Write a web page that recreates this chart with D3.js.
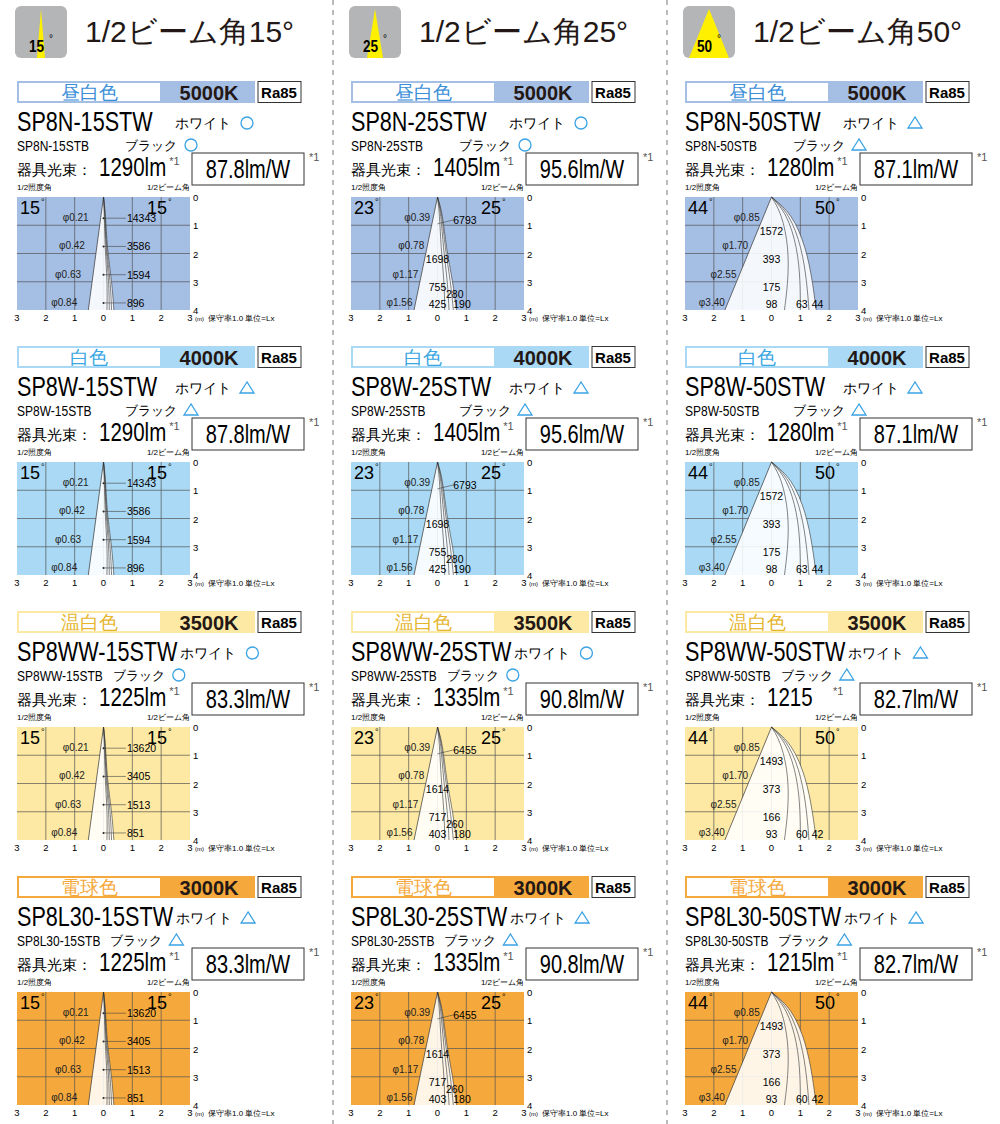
<!DOCTYPE html>
<html><head><meta charset="utf-8">
<script src="https://cdn.jsdelivr.net/npm/d3@7"></script>
<style>body{margin:0;background:#fff}text{font-family:"Liberation Sans",Arial,sans-serif}</style>
</head><body><div id="chart"></div>
<script>
// column data (beam angle)
const beamAngles = [15, 25, 50];
const illumAngles = [15, 23, 44];
const phis = [[0.21, 0.42, 0.63, 0.84], [0.39, 0.78, 1.17, 1.56], [0.85, 1.70, 2.55, 3.40]];
// row data (colour temperature)
const colorNames = ['昼白色', '白色', '温白色', '電球色'];
const kelvins = ['5000K', '4000K', '3500K', '3000K'];
const rowFill = ['#a5bee4', '#a9d9f4', '#fde9a3', '#f5a93c'];
const nameColor = ['#3b8ed8', '#3aa7e2', '#e6b52c', '#f5a93c'];
const modelPrefix = ['SP8N', 'SP8W', 'SP8WW', 'SP8L30'];
const lumens = [[1290, 1405, 1280], [1290, 1405, 1280], [1225, 1335, 1215], [1225, 1335, 1215]];
const lumenUnits = [['lm', 'lm', 'lm'], ['lm', 'lm', 'lm'], ['lm', 'lm', ''], ['lm', 'lm', 'lm']];
const efficacy = [['87.8', '95.6', '87.1'], ['87.8', '95.6', '87.1'], ['83.3', '90.8', '82.7'], ['83.3', '90.8', '82.7']];
const symbols = [['o', 'o', 't'], ['t', 't', 't'], ['o', 'o', 't'], ['t', 't', 't']];
// illuminance (lx)
const luxHigh = [[14343, 3586, 1594, 896], [6793, 1698, 755, 425, 280, 190], [1572, 393, 175, 98, 63, 44]];
const luxLow = [[13620, 3405, 1513, 851], [6455, 1614, 717, 403, 260, 180], [1493, 373, 166, 93, 60, 42]];
// lux label positions in metres [x, depth]
const luxPos = [
  [[0.95, 0.75], [0.95, 1.75], [0.95, 2.75], [0.95, 3.75]],
  [[0.95, 0.8], [0.0, 2.2], [0.0, 3.2], [0.0, 3.8], [0.6, 3.45], [0.85, 3.8]],
  [[0.0, 1.2], [0.0, 2.2], [0.0, 3.2], [0.0, 3.8], [1.05, 3.8], [1.6, 3.8]]
];
// isolux curve end points at 4 m and bulge
const curveEnds = [[0.12, 0.2, 0.28, 0.36], [0.25, 0.4, 0.55, 0.66], [0.45, 1.0, 1.3, 1.55]];
const curveBulge = [[0.05, 0.08, 0.1, 0.12], [0.12, 0.2, 0.26, 0.3], [0.6, 0.9, 1.05, 1.2]];

const W = 1000, H = 1124;
const svg = d3.select('#chart').append('svg').attr('width', W).attr('height', H);
const colX = [17, 351, 685];
const rowY = [81, 346, 611, 876];

// squeeze a text horizontally to imitate the condensed face
function narrow(sel, f) {
  const w = sel.node().getComputedTextLength();
  sel.attr('textLength', w * f).attr('lengthAdjust', 'spacingAndGlyphs');
  return w * f;
}

// separators
[333, 667].forEach(x => svg.append('line').attr('x1', x).attr('x2', x).attr('y1', 0).attr('y2', H)
  .attr('stroke', '#777').attr('stroke-dasharray', '5,5'));

// headers
beamAngles.forEach((b, c) => {
  const g = svg.append('g').attr('transform', `translate(${colX[c] - 2},6)`);
  g.append('rect').attr('width', 52).attr('height', 52).attr('rx', 6).attr('fill', '#b4b5b6');
  const hw = [4, 8, 20][c];
  g.append('path').attr('d', `M26,3 L${26 - hw},52 L${26 + hw},52 Z`).attr('fill', '#fff000');
  narrow(g.append('text').attr('x', 14).attr('y', 46)
    .attr('font-size', 17).attr('font-weight', 'bold').text(b), 0.8);
  g.append('text').attr('x', 34).attr('y', 36).attr('font-size', 10).text('°');
  svg.append('text').attr('x', colX[c] + 68).attr('y', 42).attr('font-size', 30).attr('fill', '#231815')
    .text('1/2ビーム角' + b + '°');
});

function symbol(g, kind, x, y) {
  if (kind === 'o') g.append('circle').attr('cx', x).attr('cy', y).attr('r', 6)
    .attr('fill', 'none').attr('stroke', '#3aa3e3').attr('stroke-width', 1.3);
  else g.append('path').attr('d', `M${x},${y - 6} L${x - 7},${y + 5} L${x + 7},${y + 5} Z`)
    .attr('fill', 'none').attr('stroke', '#3aa3e3').attr('stroke-width', 1.3);
}

colorNames.forEach((cn, r) => {
  beamAngles.forEach((b, c) => {
    const g = svg.append('g').attr('transform', `translate(${colX[c]},${rowY[r]})`);
    // colour bar
    g.append('rect').attr('x', 0).attr('y', 0).attr('width', 238).attr('height', 22).attr('fill', rowFill[r]);
    g.append('rect').attr('x', 2).attr('y', 2).attr('width', 141).attr('height', 18).attr('fill', '#fff');
    g.append('text').attr('x', 72).attr('y', 18).attr('text-anchor', 'middle').attr('font-size', 19)
      .attr('fill', nameColor[r]).text(cn);
    g.append('text').attr('x', 192).attr('y', 19).attr('text-anchor', 'middle').attr('font-size', 20)
      .attr('font-weight', 'bold').attr('fill', '#231815').text(kelvins[r]);
    g.append('rect').attr('x', 241).attr('y', 0.5).attr('width', 43).attr('height', 21)
      .attr('fill', '#fff').attr('stroke', '#333');
    g.append('text').attr('x', 262).attr('y', 17).attr('text-anchor', 'middle').attr('font-size', 15)
      .attr('font-weight', 'bold').text('Ra85');
    // model lines
    const m = modelPrefix[r] + '-' + b;
    const nw = narrow(g.append('text').attr('x', 0).attr('y', 50).attr('font-size', 27).text(m + 'STW'), 0.8);
    const wx = r >= 2 ? nw + 3 : 158;
    g.append('text').attr('x', wx).attr('y', 47).attr('font-size', 14).text('ホワイト');
    symbol(g, symbols[r][c], wx + 72, 42);
    const sw = narrow(g.append('text').attr('x', 0).attr('y', 70).attr('font-size', 15).text(m + 'STB'), 0.8);
    const bx = r >= 2 ? sw + 10 : 108;
    g.append('text').attr('x', bx).attr('y', 69).attr('font-size', 13).text('ブラック');
    symbol(g, symbols[r][c], bx + 66, 64);
    g.append('text').attr('x', 0).attr('y', 94).attr('font-size', 15).text('器具光束：');
    const lw = narrow(g.append('text').attr('x', 82).attr('y', 95).attr('font-size', 25)
      .text(lumens[r][c] + lumenUnits[r][c]), 0.82);
    g.append('text').attr('x', Math.max(82 + lw + 3, 148)).attr('y', 84).attr('font-size', 11).attr('fill', '#555').text('*1');
    g.append('rect').attr('x', 175).attr('y', 72).attr('width', 112).attr('height', 32)
      .attr('fill', '#fff').attr('stroke', '#333');
    const ef = g.append('text').attr('x', 231).attr('y', 97).attr('text-anchor', 'middle').attr('font-size', 25)
      .text(efficacy[r][c] + 'lm/W');
    narrow(ef, 0.8);
    g.append('text').attr('x', 292).attr('y', 80).attr('font-size', 11).attr('fill', '#555').text('*1');

    drawDiagram(g.append('g').attr('transform', 'translate(0,116)'), c, r >= 2 ? luxLow[c] : luxHigh[c], rowFill[r]);
  });
});

function drawDiagram(g, c, lux, fill) {
  const x = d3.scaleLinear().domain([-3, 3]).range([0, 173]);
  const y = d3.scaleLinear().domain([0, 4]).range([0, 113]);
  g.append('text').attr('x', 0).attr('y', -7).attr('font-size', 8).text('1/2照度角');
  g.append('text').attr('x', 173).attr('y', -7).attr('text-anchor', 'end').attr('font-size', 8).text('1/2ビーム角');
  g.append('rect').attr('width', 173).attr('height', 113).attr('fill', fill);
  d3.range(-2, 3).forEach(v => g.append('line').attr('x1', x(v)).attr('x2', x(v)).attr('y1', 0).attr('y2', 113)
    .attr('stroke', '#555').attr('stroke-width', 0.7));
  d3.range(1, 4).forEach(v => g.append('line').attr('x1', 0).attr('x2', 173).attr('y1', y(v)).attr('y2', y(v))
    .attr('stroke', '#555').attr('stroke-width', 0.7));
  const left = -4 * Math.tan(illumAngles[c] / 2 * Math.PI / 180);
  const ends = curveEnds[c], bul = curveBulge[c];
  const outer = ends[ends.length - 1], ob = bul[bul.length - 1];
  const line = d3.line().curve(d3.curveBasis);
  const curvePts = (e, k) => [[x(0), y(0)], [x(k * 0.6), y(0.6)], [x(k), y(1.8)], [x((k + e) / 2 + 0.05), y(3)], [x(e), y(4)]];
  g.append('path').attr('d', `M${x(0)},${y(0)} L${x(left)},${y(4)} ` +
    line(curvePts(outer, ob).reverse()).replace('M', 'L') + 'Z')
    .attr('fill', '#fff').attr('opacity', 0.88);
  ends.forEach((e, i) => g.append('path').attr('d', line(curvePts(e, bul[i])))
    .attr('fill', 'none').attr('stroke', '#333').attr('stroke-width', 0.6));
  g.append('line').attr('x1', x(0)).attr('y1', y(0)).attr('x2', x(left)).attr('y2', y(4))
    .attr('stroke', '#333').attr('stroke-width', 0.7);
  // phi labels
  phis[c].forEach((p, i) => {
    const d = i + 0.75;
    g.append('text').attr('x', x(left * d / 4) - (c === 0 ? 12 : 3)).attr('y', y(d) + 3)
      .attr('text-anchor', 'end').attr('font-size', 10).attr('fill', '#222').text('φ' + p.toFixed(2));
  });
  // lux labels
  lux.forEach((v, i) => {
    const [px, pd] = luxPos[c][i];
    if (c === 0) {
      g.append('circle').attr('cx', x(0)).attr('cy', y(pd)).attr('r', 1).attr('fill', '#222');
      g.append('line').attr('x1', x(0)).attr('x2', x(px) - 5).attr('y1', y(pd)).attr('y2', y(pd))
        .attr('stroke', '#444').attr('stroke-width', 0.6);
    }
    if (c === 1 && i === 0) g.append('line').attr('x1', x(0)).attr('x2', x(0.6)).attr('y1', y(0.95)).attr('y2', y(0.8))
      .attr('stroke', '#444').attr('stroke-width', 0.6);
    g.append('text').attr('x', x(px) + (c === 0 ? -4 : 0)).attr('y', y(pd) + 4)
      .attr('text-anchor', c === 0 ? 'start' : 'middle').attr('font-size', 10.5).text(v);
  });
  // axes labels
  [3, 2, 1, 0, 1, 2, 3].forEach((v, i) => g.append('text').attr('x', x(i - 3)).attr('y', 124)
    .attr('text-anchor', 'middle').attr('font-size', 9.5).text(v));
  g.append('text').attr('x', 178).attr('y', 124).attr('font-size', 6).text('(m)');
  g.append('text').attr('x', 191).attr('y', 124).attr('font-size', 8).text('保守率1.0  単位=Lx');
  d3.range(0, 5).forEach(v => g.append('text').attr('x', 176).attr('y', y(v) + 4).attr('font-size', 9.5).text(v));
  g.append('text').attr('x', 3).attr('y', 17).attr('font-size', 18).text(illumAngles[c]);
  g.append('text').attr('x', 24).attr('y', 8).attr('font-size', 9).text('°');
  g.append('text').attr('x', 150).attr('y', 17).attr('text-anchor', 'end').attr('font-size', 18).text(beamAngles[c]);
  g.append('text').attr('x', 151).attr('y', 8).attr('font-size', 9).text('°');
}
</script></body></html>
